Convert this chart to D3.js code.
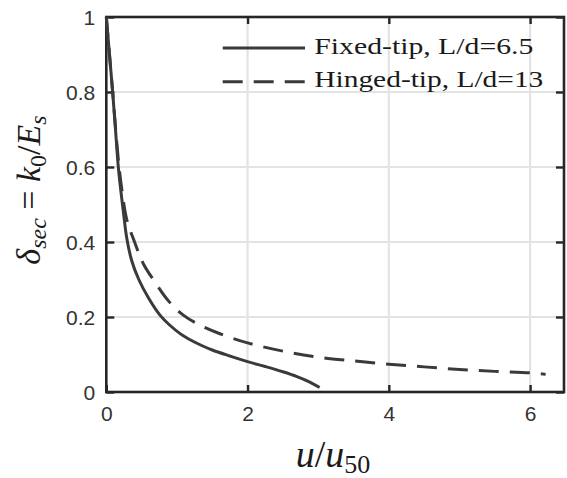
<!DOCTYPE html>
<html><head><meta charset="utf-8">
<script src="https://cdn.jsdelivr.net/npm/d3@7"></script>
<style>body{margin:0;background:#fff}svg{display:block}</style>
</head><body>
<svg id="c" width="567" height="478"></svg>
<script>
const fixedX = [0, 0.045, 0.09, 0.13, 0.17, 0.21, 0.245, 0.29, 0.36, 0.46, 0.6, 0.76, 0.9, 1.05, 1.2, 1.35, 1.5, 1.75, 2.0, 2.25, 2.5, 2.7, 2.85, 3.02];
const fixedY = [1.0, 0.9, 0.8, 0.7, 0.6, 0.53, 0.475, 0.41, 0.35, 0.3, 0.25, 0.205, 0.178, 0.155, 0.138, 0.124, 0.112, 0.096, 0.081, 0.068, 0.054, 0.041, 0.029, 0.012];
const hingedX = [0, 0.09, 0.17, 0.22, 0.29, 0.4, 0.53, 0.69, 0.88, 1.09, 1.33, 1.6, 2.0, 2.5, 3.0, 3.5, 4.0, 4.5, 5.0, 5.5, 6.0, 6.22];
const hingedY = [1.0, 0.8, 0.62, 0.54, 0.46, 0.4, 0.34, 0.293, 0.243, 0.205, 0.178, 0.156, 0.131, 0.109, 0.093, 0.083, 0.074, 0.067, 0.06, 0.055, 0.051, 0.047];
const xTicks = [0, 2, 4, 6];
const yTicks = [0, 0.2, 0.4, 0.6, 0.8, 1];
const legendLabels = ["Fixed-tip, L/d=6.5", "Hinged-tip, L/d=13"];

const svg = d3.select("#c");
const L = 106.3, R = 564, T = 17, B = 392;
const x = d3.scaleLinear().domain([0, 6.48]).range([L, R]);
const y = d3.scaleLinear().domain([0, 1]).range([B, T]);
const ink = "#262626", lineCol = "#3a3a3a", gridCol = "#e3e3e3";

// grid
svg.append("g").selectAll("line").data(xTicks.filter(d => d > 0)).join("line")
  .attr("x1", d => x(d)).attr("x2", d => x(d)).attr("y1", T).attr("y2", B)
  .attr("stroke", gridCol).attr("stroke-width", 2.2);
svg.append("g").selectAll("line").data(yTicks.filter(d => d > 0 && d < 1)).join("line")
  .attr("y1", d => y(d)).attr("y2", d => y(d)).attr("x1", L).attr("x2", R)
  .attr("stroke", gridCol).attr("stroke-width", 2.2);

// axes with inward ticks
const fmt = d => String(d);
const axB = svg.append("g").attr("transform", `translate(0,${B})`)
  .call(d3.axisBottom(x).tickValues(xTicks).tickSize(-7).tickPadding(14).tickFormat(fmt));
const axT = svg.append("g").attr("transform", `translate(0,${T})`)
  .call(d3.axisTop(x).tickValues(xTicks).tickSize(-7).tickFormat(""));
const axL = svg.append("g").attr("transform", `translate(${L},0)`)
  .call(d3.axisLeft(y).tickValues(yTicks).tickSize(-8).tickPadding(11).tickFormat(fmt));
const axR = svg.append("g").attr("transform", `translate(${R},0)`)
  .call(d3.axisRight(y).tickValues(yTicks).tickSize(-8).tickFormat(""));
[axB, axT, axL, axR].forEach(g => {
  g.select(".domain").remove();
  g.selectAll(".tick line").attr("stroke", ink).attr("stroke-width", 2.4);
  g.selectAll("text").attr("font-family", "Liberation Sans, Arial, sans-serif")
    .attr("font-size", 21).attr("fill", "#333");
});
axB.selectAll("text").attr("dy", "0.71em");
axL.selectAll("text").attr("dy", "0.36em");

// frame
svg.append("rect").attr("x", L).attr("y", T).attr("width", R - L).attr("height", B - T)
  .attr("fill", "none").attr("stroke", ink).attr("stroke-width", 2.6);

// curves
const line = d3.line().x(d => x(d[0])).y(d => y(d[1])).curve(d3.curveCatmullRom.alpha(0.5));
const fixed = fixedX.map((v, i) => [v, fixedY[i]]);
const hinged = hingedX.map((v, i) => [v, hingedY[i]]);
svg.append("path").datum(hinged).attr("d", line).attr("fill", "none")
  .attr("stroke", lineCol).attr("stroke-width", 3).attr("stroke-dasharray", "20,11");
svg.append("path").datum(fixed).attr("d", line).attr("fill", "none")
  .attr("stroke", lineCol).attr("stroke-width", 3);

// legend
const lg = svg.append("g");
const rows = [48, 81.7];
legendLabels.forEach((t, i) => {
  lg.append("line").attr("x1", 222.7).attr("x2", 305).attr("y1", rows[i]).attr("y2", rows[i])
    .attr("stroke", lineCol).attr("stroke-width", 3)
    .attr("stroke-dasharray", i === 1 ? "20,11" : null);
  lg.append("text").attr("x", 314.3).attr("y", rows[i] + 5.5)
    .attr("font-family", "Liberation Serif, Times New Roman, serif").attr("font-size", 23)
    .attr("fill", "#1a1a1a")
    .attr("textLength", i === 0 ? 219 : 229).attr("lengthAdjust", "spacingAndGlyphs")
    .text(t);
});

// x label
const xl = svg.append("text").attr("x", 333).attr("y", 467)
  .attr("text-anchor", "middle").attr("font-family", "Liberation Serif, serif")
  .attr("font-size", 38).attr("fill", "#1a1a1a");
xl.append("tspan").attr("font-style", "italic").text("u");
xl.append("tspan").text("/");
xl.append("tspan").attr("font-style", "italic").text("u");
xl.append("tspan").attr("font-size", 26).attr("dy", 6).text("50");

// y label
const yl = svg.append("text").attr("transform", "translate(40,190) rotate(-90)")
  .attr("text-anchor", "middle").attr("font-family", "Liberation Serif, serif")
  .attr("font-size", 34).attr("fill", "#1a1a1a");
yl.append("tspan").attr("font-style", "italic").text("δ");
yl.append("tspan").attr("font-style", "italic").attr("font-size", 24).attr("dy", 6).text("sec");
yl.append("tspan").attr("dy", -6).text(" = ");
yl.append("tspan").attr("font-style", "italic").text("k");
yl.append("tspan").attr("font-size", 24).attr("dy", 6).text("0");
yl.append("tspan").attr("dy", -6).text("/");
yl.append("tspan").attr("font-style", "italic").text("E");
yl.append("tspan").attr("font-style", "italic").attr("font-size", 24).attr("dy", 6).text("s");
</script>
</body></html>
